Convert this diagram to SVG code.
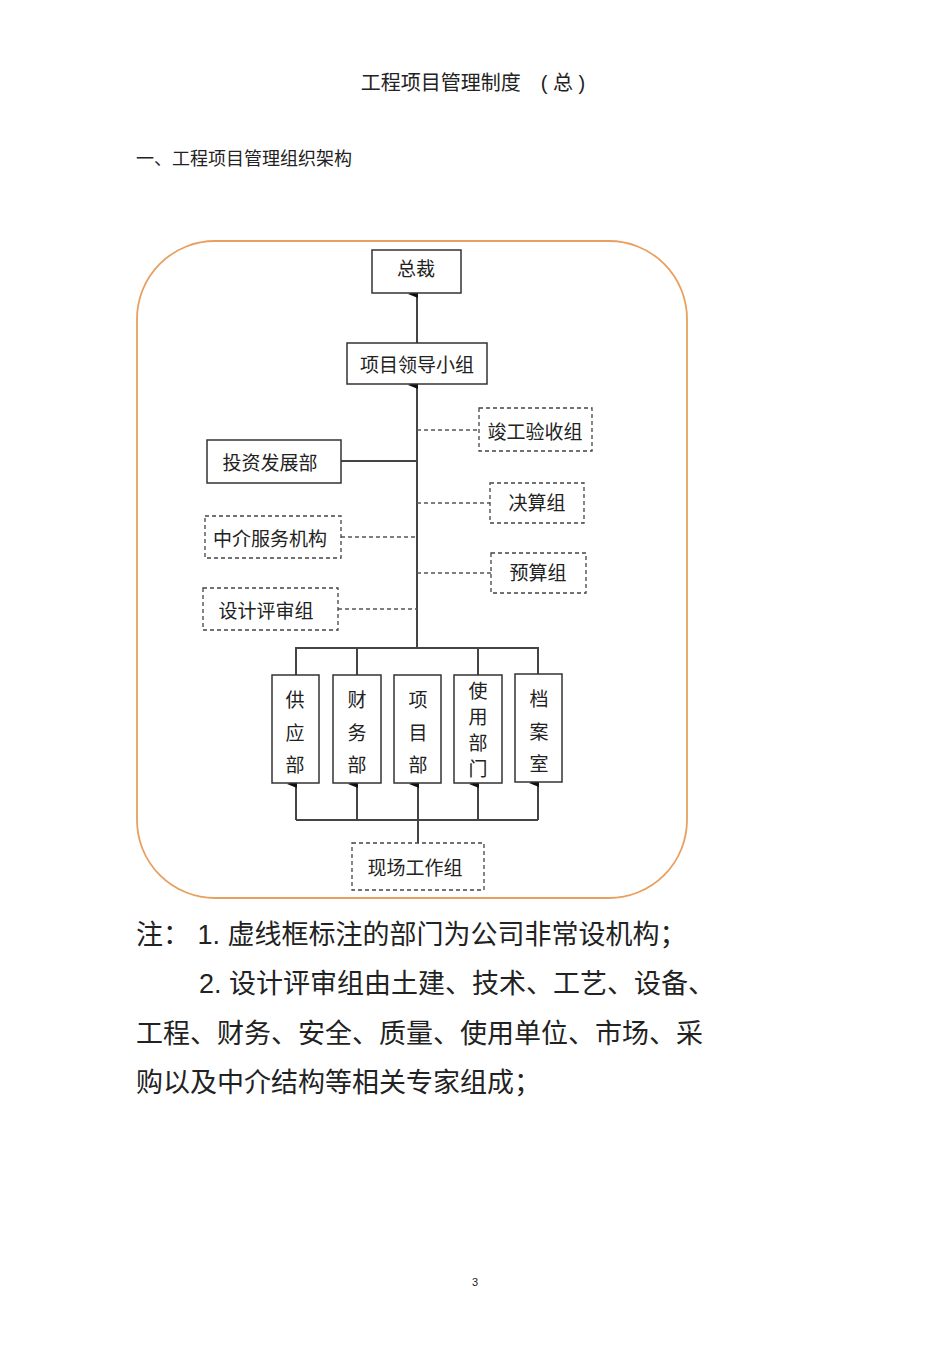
<svg xmlns="http://www.w3.org/2000/svg" width="950" height="1345" viewBox="0 0 950 1345">
<style>
text{font-family:"Liberation Sans","Noto Sans CJK SC",sans-serif;fill:#222}
.n{font-size:19px;text-anchor:middle}
.s{fill:#fff;stroke:#333;stroke-width:1.5}
.d{fill:#fff;stroke:#444;stroke-width:1.3;stroke-dasharray:4,3}
.l{stroke:#444;stroke-width:2;fill:none}
.dl{stroke:#555;stroke-width:1.3;stroke-dasharray:4,3;fill:none}
.big{font-size:27px}
</style>
<defs><marker id="a" markerWidth="8" markerHeight="10" refX="4" refY="9" orient="auto-start-reverse" markerUnits="userSpaceOnUse"><path d="M0,10 L4,0 L8,10Z" fill="#111"/></marker></defs>
<rect width="950" height="1345" fill="#fff"/>
<text x="473" y="90" font-size="20" text-anchor="middle">工程项目管理制度　( 总 )</text>
<text x="136" y="165" font-size="18">一、工程项目管理组织架构</text>
<rect x="137" y="241" width="550" height="657" rx="78" fill="none" stroke="#E8A060" stroke-width="1.8"/>
<g id="connectors">
<path class="l" d="M417,343 V294" marker-end="url(#a)"/>
<path class="l" d="M417,648 V385" marker-end="url(#a)"/>
<path class="l" d="M341,461 H417"/>
<path class="dl" d="M417,430 H479 M417,503 H490 M417,573 H491 M341,537 H417 M338,609 H417"/>
<path class="l" d="M296,675 V648 H538 V674 M357,648 V675 M478,648 V675"/>
<path class="l" d="M296,820 H538 M418,843 V820"/>
<path class="l" d="M296,820 V784" marker-end="url(#a)"/>
<path class="l" d="M357,820 V784" marker-end="url(#a)"/>
<path class="l" d="M418,820 V784" marker-end="url(#a)"/>
<path class="l" d="M478,820 V784" marker-end="url(#a)"/>
<path class="l" d="M538,820 V783" marker-end="url(#a)"/>
</g>
<g id="n1"><rect class="s" x="372" y="250" width="89" height="43"/><text class="n" x="416" y="276">总裁</text></g>
<g id="n2"><rect class="s" x="347" y="343" width="140" height="41"/><text class="n" x="417" y="372">项目领导小组</text></g>
<g id="n3"><rect class="d" x="479" y="408" width="113" height="43"/><text class="n" x="535" y="439">竣工验收组</text></g>
<g id="n4"><rect class="s" x="207" y="440" width="134" height="43" stroke-width="2"/><text class="n" x="270" y="470">投资发展部</text></g>
<g id="n5"><rect class="d" x="490" y="483" width="94" height="40"/><text class="n" x="537" y="510">决算组</text></g>
<g id="n6"><rect class="d" x="205" y="516" width="136" height="42"/><text class="n" x="270" y="546">中介服务机构</text></g>
<g id="n7"><rect class="d" x="491" y="553" width="95" height="40"/><text class="n" x="538" y="580">预算组</text></g>
<g id="n8"><rect class="d" x="203" y="588" width="135" height="42"/><text class="n" x="266" y="618">设计评审组</text></g>
<g id="b1"><rect class="s" x="272" y="675" width="47" height="108"/><text class="n" x="295" y="707">供</text><text class="n" x="295" y="740">应</text><text class="n" x="295" y="772">部</text></g>
<g id="b2"><rect class="s" x="333" y="675" width="48" height="108"/><text class="n" x="357" y="707">财</text><text class="n" x="357" y="740">务</text><text class="n" x="357" y="772">部</text></g>
<g id="b3"><rect class="s" x="394" y="675" width="47" height="108"/><text class="n" x="418" y="707">项</text><text class="n" x="418" y="740">目</text><text class="n" x="418" y="772">部</text></g>
<g id="b4"><rect class="s" x="454" y="675" width="48" height="108"/><text class="n" x="478" y="698">使</text><text class="n" x="478" y="724">用</text><text class="n" x="478" y="750">部</text><text class="n" x="478" y="776">门</text></g>
<g id="b5"><rect class="s" x="515" y="674" width="47" height="108"/><text class="n" x="539" y="706">档</text><text class="n" x="539" y="739">案</text><text class="n" x="539" y="771">室</text></g>
<g id="b6"><rect class="d" x="352" y="843" width="132" height="47"/><text class="n" x="415" y="875">现场工作组</text></g>
<text class="big" x="136" y="944">注：  1. 虚线框标注的部门为公司非常设机构；</text>
<text class="big" x="199" y="993">2. 设计评审组由土建、技术、工艺、设备、</text>
<text class="big" x="136" y="1043">工程、财务、安全、质量、使用单位、市场、采</text>
<text class="big" x="136" y="1092">购以及中介结构等相关专家组成；</text>
<text x="475" y="1286" font-size="11" text-anchor="middle">3</text>
</svg>
